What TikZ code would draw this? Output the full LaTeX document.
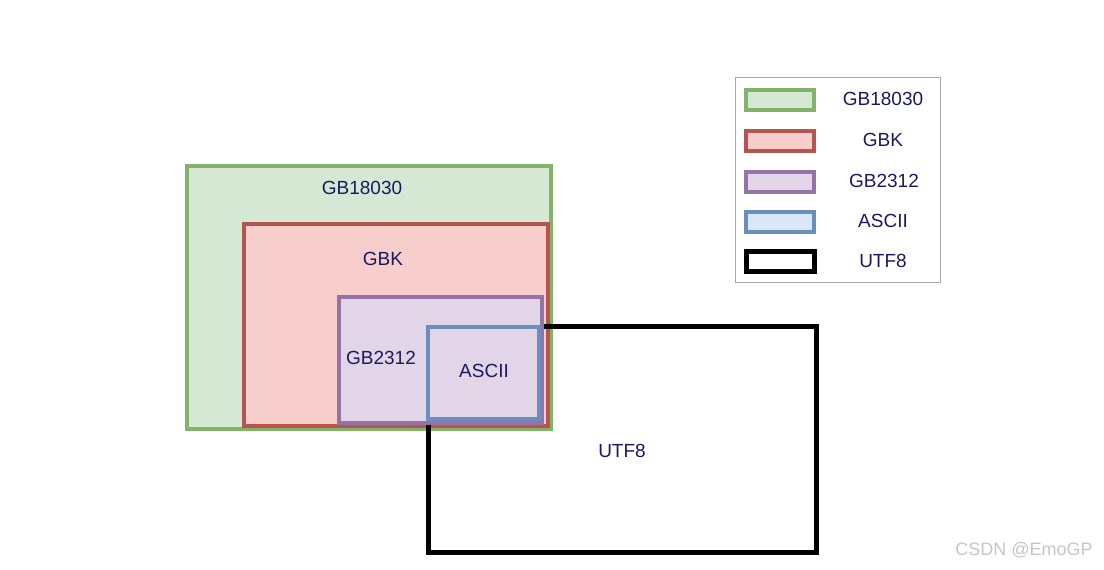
\documentclass[tikz,border=0pt]{standalone}
\usepackage{fontspec}
\setmainfont{Liberation Sans}
\definecolor{gfill}{HTML}{D5E8D4}\definecolor{gline}{HTML}{82B366}
\definecolor{rfill}{HTML}{F8CECC}\definecolor{rline}{HTML}{B85450}
\definecolor{pfill}{HTML}{E1D5E7}\definecolor{pline}{HTML}{9673A6}
\definecolor{bfill}{HTML}{DAE8FC}\definecolor{bline}{HTML}{6C8EBF}
\definecolor{txt}{HTML}{1A1A60}
\begin{document}
\begin{tikzpicture}[x=1pt,y=-1pt,
  box/.style={rectangle,inner sep=0pt,outer sep=0pt,line width=4pt},
  lbl/.style={text=txt,font=\fontsize{19}{22}\selectfont,inner sep=0pt},
  sw/.style={box,minimum width=68pt,minimum height=20pt}]
\useasboundingbox[fill=white] (0,0) rectangle (1104,570);
% sets
\node[box,draw=gline,fill=gfill,minimum width=364pt,minimum height=263pt] (g) at (369,297.5) {};
\node[box,draw=rline,fill=rfill,line width=3.5pt,minimum width=304pt,minimum height=202pt] (r) at (396,325) {};
\node[box,draw=black,line width=5pt,minimum width=388pt,minimum height=226pt] (u) at (622,439) {};
\node[box,draw=pline,fill=pfill,minimum width=203pt,minimum height=126pt] (p) at (440.5,360) {};
\node[box,draw=bline,minimum width=111pt,minimum height=92pt] (a) at (483.5,373) {};
\node[lbl] (tg) at (362,188) {GB18030};
\node[lbl] (tr) at (383,259) {GBK};
\node[lbl] (tp) at (381,358) {GB2312};
\node[lbl] (ta) at (484,371) {ASCII};
\node[lbl] (tu) at (622,451) {UTF8};
% legend
\node[draw=gray!70,line width=1pt,rectangle,inner sep=0pt,minimum width=205pt,minimum height=205pt] (leg) at (837.5,179.5) {};
\node[sw,draw=gline,fill=gfill] (s1) at (780,99.5) {};
\node[sw,draw=rline,fill=rfill] (s2) at (780,140.5) {};
\node[sw,draw=pline,fill=pfill] (s3) at (780,181.5) {};
\node[sw,draw=bline,fill=bfill] (s4) at (780,221.5) {};
\node[sw,draw=black,fill=white,line width=5pt] (s5) at (780,261.5) {};
\node[lbl] (l1) at (883,99) {GB18030};
\node[lbl] (l2) at (883,140) {GBK};
\node[lbl] (l3) at (884,181) {GB2312};
\node[lbl] (l4) at (883,221) {ASCII};
\node[lbl] (l5) at (883,261) {UTF8};
% watermark
\node[text=gray!45,font=\fontsize{18}{21}\selectfont,inner sep=0pt] (wm) at (1024,550) {CSDN @EmoGP};
\end{tikzpicture}
\end{document}
